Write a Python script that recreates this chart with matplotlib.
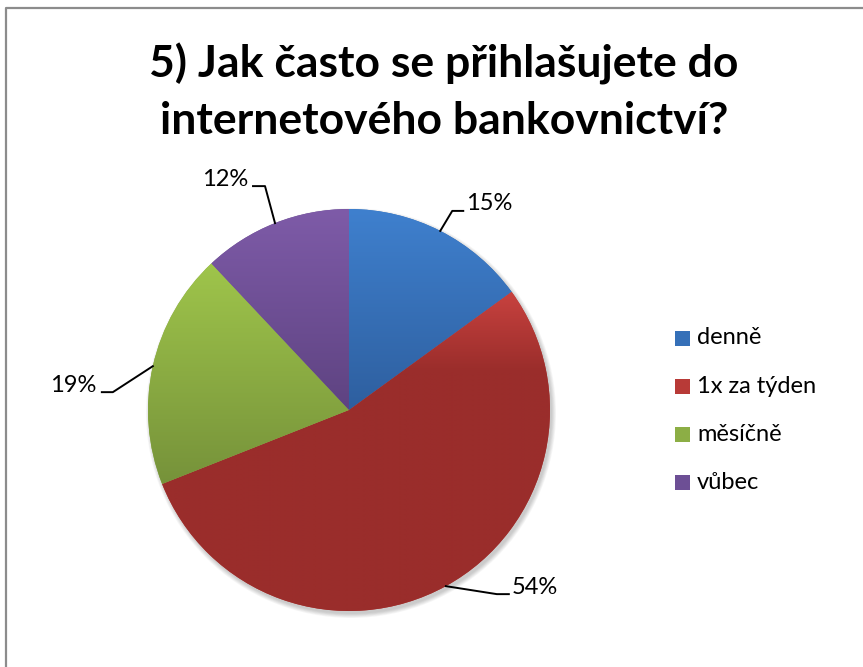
import numpy as np
import matplotlib
matplotlib.use('Agg')
import matplotlib.pyplot as plt
from matplotlib.colors import LinearSegmentedColormap
from matplotlib.patches import Rectangle, Circle
from matplotlib.lines import Line2D

W, H = 863, 667

title = '5) Jak často se přihlašujete do\ninternetového bankovnictví?'
categories = ['denně', '1x za týden', 'měsíčně', 'vůbec']
shares = [15, 54, 19, 12]
# gradient colours for each slice: top, bottom, how fast it darkens
top_colors = ['#3f80ce', '#c8423f', '#9fc54b', '#7e5ba8']
bottom_colors = ['#2e5f9f', '#9a2d2b', '#76923a', '#5e4381']
fade = [1.0, 0.25, 1.0, 1.0]
legend_colors = ['#3570b8', '#b83a37', '#8cae45', '#6d4f95']

# label leader lines: bend offset from slice edge, horizontal run
bends = [(12, 20), (51, -8), (-40, -26), (-10, 37)]
runs = [11, 12, -11, -12]

plt.rcParams['font.family'] = ['Lato', 'DejaVu Sans']

fig = plt.figure(figsize=(W / 100, H / 100), dpi=100)
ax = fig.add_axes([0, 0, 1, 1])


def py(y):
    return H - y


cx, cy, r = 349, py(410), 201

# soft shadow under the pie
for k in range(6):
    ax.add_patch(Circle((cx + 2, cy - 3), r + 4 - k * 0.8, color='#000000',
                        alpha=0.035, lw=0, zorder=1))

wedges, _ = ax.pie(shares, colors=legend_colors, startangle=90, counterclock=False,
                   center=(cx, cy), radius=r, frame=True,
                   wedgeprops=dict(linewidth=0, zorder=2))

grad = np.linspace(0, 1, 256).reshape(-1, 1)
for w, c0, c1, f in zip(wedges, top_colors, bottom_colors, fade):
    ext = w.get_path().get_extents()
    cmap = LinearSegmentedColormap.from_list('g', [(0, c0), (f, c1), (1, c1)])
    im = ax.imshow(grad, cmap=cmap, aspect='auto', origin='upper',
                   extent=[ext.x0, ext.x1, ext.y0, ext.y1], zorder=3,
                   interpolation='bilinear')
    im.set_clip_path(w)

ax.set_xlim(0, W)
ax.set_ylim(0, H)
ax.set_aspect('equal')
ax.axis('off')

# percentage labels with leader lines
for w, val, (bx, by), run in zip(wedges, shares, bends, runs):
    mid = np.deg2rad((w.theta1 + w.theta2) / 2)
    ex, ey = cx + r * np.cos(mid), cy + r * np.sin(mid)
    kx, ky = ex + bx, ey + by
    ax.add_line(Line2D([ex, kx, kx + run], [ey, ky, ky], color='black', lw=1.4, zorder=5))
    ha = 'left' if run > 0 else 'right'
    ax.text(kx + run + (3 if run > 0 else -5), ky + 7, f'{val}%', ha=ha, va='center',
            fontsize=17, color='black', zorder=6)

# legend
for i, (name, col) in enumerate(zip(categories, legend_colors)):
    ly = py(338 + i * 48.3)
    ax.add_patch(Rectangle((675, ly - 7.5), 15, 15, facecolor=col, lw=0, zorder=5))
    ax.text(697, ly, name, ha='left', va='center', fontsize=17, color='black')

ax.text(444, py(92), title, ha='center', va='center', fontsize=32, fontweight='bold',
        linespacing=1.5, color='black')

# chart border
ax.add_line(Line2D([5.5, 5.5, W], [0, py(8), py(8)], color='#8c8c8c', lw=1.6, zorder=7))

fig.savefig('out.png', dpi=100)
